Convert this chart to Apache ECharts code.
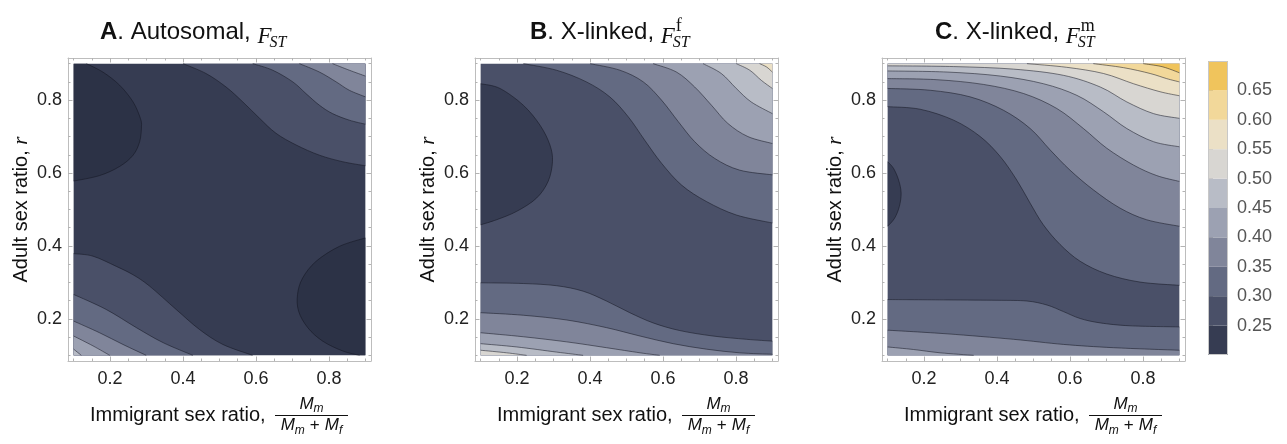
<!DOCTYPE html>
<html>
<head>
<meta charset="utf-8">
<script src="https://cdn.jsdelivr.net/npm/echarts@6/dist/echarts.min.js"></script>
<style>
  html, body { margin: 0; background: #fff; }
  #chart { width: 1287px; height: 444px; }
</style>
</head>
<body>
<div id="chart"></div>
<script>
// F_ST bands, 0.05 wide: lower edge of each band and its fill
var bandLows = [0.15, 0.20, 0.25, 0.30, 0.35, 0.40, 0.45, 0.50, 0.55, 0.60, 0.65];
var bandColors = ['#2c3246', '#363c52', '#4a5068', '#636a82', '#80859a', '#9ca1b2',
                  '#b8bcc6', '#d8d6d2', '#ebe0c6', '#f2d89a', '#f0c45c'];
var legendBands = [0.20, 0.25, 0.30, 0.35, 0.40, 0.45, 0.50, 0.55, 0.60, 0.65];
var legendTicks = [0.25, 0.30, 0.35, 0.40, 0.45, 0.50, 0.55, 0.60, 0.65];
var axisTicks = [0.2, 0.4, 0.6, 0.8];
var minorTicks = [0.1, 0.15, 0.2, 0.25, 0.3, 0.35, 0.4, 0.45, 0.5, 0.55, 0.6, 0.65, 0.7, 0.75, 0.8, 0.85, 0.9];
var domain = [0.1, 0.9];
// band that fills the bulk of each panel
var baseBand = [0.20, 0.25, 0.25];

// contour lines, [immigrant ratio, r] points
// side: which side of the line is enclosed, close: domain corners that close the region
var autosomalLines = [
  { level: 0.20, side: 'below', close: ['tl'], pts: [[0.135, 0.900], [0.180, 0.877], [0.226, 0.841], [0.263, 0.795], [0.283, 0.750], [0.286, 0.727], [0.281, 0.686], [0.263, 0.649], [0.226, 0.618], [0.171, 0.593], [0.100, 0.578]] },
  { level: 0.20, side: 'below', close: ['br'], pts: [[0.900, 0.422], [0.829, 0.399], [0.765, 0.358], [0.728, 0.312], [0.714, 0.267], [0.717, 0.221], [0.742, 0.176], [0.783, 0.139], [0.838, 0.112], [0.884, 0.100]] },
  { level: 0.25, side: 'above', close: ['tr'], pts: [[0.400, 0.900], [0.463, 0.873], [0.518, 0.836], [0.564, 0.795], [0.610, 0.750], [0.655, 0.709], [0.710, 0.677], [0.774, 0.649], [0.838, 0.631], [0.900, 0.620]] },
  { level: 0.30, side: 'above', close: ['tr'], pts: [[0.591, 0.900], [0.646, 0.882], [0.701, 0.850], [0.737, 0.818], [0.774, 0.786], [0.810, 0.763], [0.856, 0.745], [0.900, 0.734]] },
  { level: 0.35, side: 'above', close: ['tr'], pts: [[0.719, 0.900], [0.774, 0.877], [0.820, 0.850], [0.856, 0.827], [0.900, 0.809]] },
  { level: 0.40, side: 'above', close: ['tr'], pts: [[0.810, 0.900], [0.856, 0.882], [0.900, 0.866]] },
  { level: 0.25, side: 'above', close: ['bl'], pts: [[0.100, 0.379], [0.153, 0.372], [0.217, 0.344], [0.263, 0.321], [0.308, 0.290], [0.381, 0.226], [0.445, 0.171], [0.509, 0.130], [0.591, 0.100]] },
  { level: 0.30, side: 'above', close: ['bl'], pts: [[0.100, 0.267], [0.189, 0.226], [0.272, 0.176], [0.345, 0.135], [0.427, 0.100]] },
  { level: 0.35, side: 'above', close: ['bl'], pts: [[0.100, 0.194], [0.171, 0.162], [0.235, 0.130], [0.299, 0.100]] },
  { level: 0.40, side: 'above', close: ['bl'], pts: [[0.100, 0.153], [0.153, 0.126], [0.199, 0.100]] },
  { level: 0.45, side: 'above', close: ['bl'], pts: [[0.100, 0.117], [0.121, 0.100]] }
];

var femaleLines = [
  { level: 0.25, side: 'below', close: [], pts: [[0.100, 0.845], [0.153, 0.832], [0.217, 0.786], [0.263, 0.731], [0.290, 0.677], [0.297, 0.631], [0.285, 0.577], [0.253, 0.531], [0.199, 0.495], [0.144, 0.472], [0.100, 0.458]] },
  { level: 0.30, side: 'above', close: ['tr'], pts: [[0.217, 0.900], [0.308, 0.882], [0.390, 0.850], [0.454, 0.809], [0.505, 0.754], [0.550, 0.690], [0.596, 0.627], [0.651, 0.567], [0.719, 0.522], [0.801, 0.485], [0.900, 0.463]] },
  { level: 0.35, side: 'above', close: ['tr'], pts: [[0.400, 0.900], [0.482, 0.882], [0.546, 0.850], [0.596, 0.800], [0.642, 0.741], [0.687, 0.686], [0.742, 0.640], [0.810, 0.608], [0.900, 0.595]] },
  { level: 0.40, side: 'above', close: ['tr'], pts: [[0.573, 0.900], [0.637, 0.877], [0.687, 0.836], [0.733, 0.786], [0.778, 0.736], [0.833, 0.700], [0.900, 0.681]] },
  { level: 0.45, side: 'above', close: ['tr'], pts: [[0.710, 0.900], [0.760, 0.873], [0.801, 0.832], [0.842, 0.795], [0.900, 0.763]] },
  { level: 0.50, side: 'above', close: ['tr'], pts: [[0.801, 0.900], [0.838, 0.882], [0.870, 0.854], [0.900, 0.832]] },
  { level: 0.55, side: 'above', close: ['tr'], pts: [[0.865, 0.900], [0.884, 0.891], [0.900, 0.877]] },
  { level: 0.30, side: 'above', close: ['br', 'bl'], pts: [[0.100, 0.299], [0.217, 0.297], [0.308, 0.291], [0.381, 0.276], [0.445, 0.249], [0.509, 0.217], [0.573, 0.189], [0.646, 0.168], [0.737, 0.153], [0.829, 0.144], [0.900, 0.139]] },
  { level: 0.35, side: 'above', close: ['br', 'bl'], pts: [[0.100, 0.217], [0.217, 0.210], [0.336, 0.197], [0.445, 0.176], [0.537, 0.153], [0.628, 0.132], [0.719, 0.117], [0.810, 0.107], [0.900, 0.103]] },
  { level: 0.40, side: 'above', close: ['bl'], pts: [[0.100, 0.162], [0.217, 0.151], [0.336, 0.137], [0.445, 0.121], [0.537, 0.107], [0.591, 0.100]] },
  { level: 0.45, side: 'above', close: ['bl'], pts: [[0.100, 0.132], [0.199, 0.123], [0.308, 0.109], [0.381, 0.100]] },
  { level: 0.50, side: 'above', close: ['bl'], pts: [[0.100, 0.114], [0.171, 0.107], [0.226, 0.100]] }
];

var maleLines = [
  { level: 0.25, side: 'below', close: [], pts: [[0.100, 0.631], [0.116, 0.613], [0.130, 0.581], [0.137, 0.545], [0.132, 0.508], [0.119, 0.476], [0.100, 0.454]] },
  { level: 0.30, side: 'above', close: ['tr', 'tl'], pts: [[0.100, 0.782], [0.189, 0.775], [0.281, 0.745], [0.354, 0.700], [0.409, 0.645], [0.454, 0.581], [0.491, 0.517], [0.527, 0.458], [0.573, 0.404], [0.628, 0.358], [0.701, 0.323], [0.792, 0.301], [0.900, 0.292]] },
  { level: 0.35, side: 'above', close: ['tr', 'tl'], pts: [[0.100, 0.832], [0.217, 0.827], [0.326, 0.809], [0.418, 0.772], [0.491, 0.722], [0.546, 0.663], [0.600, 0.608], [0.664, 0.554], [0.737, 0.504], [0.810, 0.472], [0.900, 0.454]] },
  { level: 0.40, side: 'above', close: ['tr', 'tl'], pts: [[0.100, 0.859], [0.235, 0.856], [0.363, 0.843], [0.473, 0.818], [0.564, 0.777], [0.637, 0.722], [0.701, 0.668], [0.774, 0.622], [0.838, 0.593], [0.900, 0.577]] },
  { level: 0.45, side: 'above', close: ['tr', 'tl'], pts: [[0.100, 0.880], [0.263, 0.877], [0.409, 0.866], [0.527, 0.845], [0.619, 0.813], [0.692, 0.768], [0.756, 0.722], [0.829, 0.686], [0.900, 0.672]] },
  { level: 0.50, side: 'above', close: ['tr', 'tl'], pts: [[0.100, 0.894], [0.281, 0.892], [0.445, 0.885], [0.582, 0.868], [0.683, 0.836], [0.756, 0.795], [0.829, 0.763], [0.900, 0.750]] },
  { level: 0.55, side: 'above', close: ['tr'], pts: [[0.482, 0.900], [0.591, 0.890], [0.692, 0.873], [0.774, 0.845], [0.847, 0.823], [0.900, 0.812]] },
  { level: 0.60, side: 'above', close: ['tr'], pts: [[0.664, 0.900], [0.747, 0.889], [0.820, 0.873], [0.865, 0.859], [0.900, 0.850]] },
  { level: 0.65, side: 'above', close: ['tr'], pts: [[0.801, 0.900], [0.847, 0.893], [0.874, 0.885], [0.900, 0.875]] },
  { level: 0.30, side: 'above', close: ['br', 'bl'], pts: [[0.100, 0.253], [0.263, 0.252], [0.400, 0.251], [0.482, 0.249], [0.537, 0.238], [0.582, 0.220], [0.628, 0.201], [0.683, 0.189], [0.765, 0.181], [0.900, 0.178]] },
  { level: 0.35, side: 'above', close: ['br', 'bl'], pts: [[0.100, 0.169], [0.263, 0.159], [0.445, 0.144], [0.582, 0.130], [0.719, 0.121], [0.900, 0.114]] },
  { level: 0.40, side: 'above', close: ['bl'], pts: [[0.100, 0.123], [0.171, 0.116], [0.244, 0.107], [0.336, 0.100]] }
];

var panelLines = [autosomalLines, femaleLines, maleLines];
var panelTitles = [['A', '. Autosomal, ', ''], ['B', '. X-linked, ', 'f'], ['C', '. X-linked, ', 'm']];

// layout
var frameLefts = [68, 475, 882];
var titleLefts = [100, 530, 935];
var axisRange = [0.0845, 0.9155];
var SANS = '"Liberation Sans", Arial, sans-serif';
var SERIF = '"Liberation Serif", "Times New Roman", serif';

function bandColor(lo) {
  return bandColors[Math.round((lo - 0.15) / 0.05)];
}

// catmull-rom through the read points, as bezier path
function curvePath(p) {
  var d = 'M' + p[0][0].toFixed(2) + ' ' + p[0][1].toFixed(2);
  for (var i = 0; i < p.length - 1; i++) {
    var a = p[i - 1] || p[i], b = p[i], c = p[i + 1], e = p[i + 2] || c;
    d += ' C' + (b[0] + (c[0] - a[0]) / 6).toFixed(2) + ' ' + (b[1] + (c[1] - a[1]) / 6).toFixed(2) +
         ' ' + (c[0] - (e[0] - b[0]) / 6).toFixed(2) + ' ' + (c[1] - (e[1] - b[1]) / 6).toFixed(2) +
         ' ' + c[0].toFixed(2) + ' ' + c[1].toFixed(2);
  }
  return d;
}

var corners = { tl: [domain[0], domain[1]], tr: [domain[1], domain[1]], br: [domain[1], domain[0]], bl: [domain[0], domain[0]] };

function contourSeries(lines, k) {
  return {
    type: 'custom', xAxisIndex: k * 4, yAxisIndex: k * 4, silent: true,
    data: lines.map(function (l) { return l.pts[0]; }),
    renderItem: function (params, api) {
      var line = lines[params.dataIndex];
      var px = line.pts.map(function (p) { return api.coord(p); });
      var curve = curvePath(px);
      var fillPath = curve;
      line.close.forEach(function (c) {
        var q = api.coord(corners[c]);
        fillPath += ' L' + q[0].toFixed(2) + ' ' + q[1].toFixed(2);
      });
      fillPath += ' Z';
      var lo = line.side === 'above' ? line.level : line.level - 0.05;
      return {
        type: 'group',
        children: [
          { type: 'path', shape: { pathData: fillPath }, style: { fill: bandColor(lo), stroke: null } },
          { type: 'path', shape: { pathData: curve }, style: { fill: null, stroke: 'rgba(20,22,32,0.75)', lineWidth: 0.7 } }
        ]
      };
    }
  };
}

function baseSeries(k) {
  return {
    type: 'custom', xAxisIndex: k * 4, yAxisIndex: k * 4, silent: true,
    data: [[domain[0], domain[0]]],
    renderItem: function (params, api) {
      var p0 = api.coord([domain[0], domain[1]]), p1 = api.coord([domain[1], domain[0]]);
      return { type: 'rect', shape: { x: p0[0], y: p0[1], width: p1[0] - p0[0], height: p1[1] - p0[1] },
               style: { fill: bandColor(baseBand[k]) } };
    }
  };
}

function frameAxis(k, position, ticks, len, labels, isY) {
  var ax = {
    type: 'value', gridIndex: k, position: position,
    min: axisRange[0], max: axisRange[1],
    axisLine: { show: len > 3, onZero: false, lineStyle: { color: '#bdbdbd', width: 1 } },
    axisTick: { show: true, inside: true, length: len, customValues: ticks, lineStyle: { color: '#b3b3b3', width: 1 } },
    axisLabel: {
      show: labels, customValues: axisTicks, margin: isY ? 6 : 9,
      formatter: function (v) { return v.toFixed(1); },
      fontSize: 18, fontFamily: SANS, color: '#222'
    },
    splitLine: { show: false }
  };
  if (isY && labels) {
    ax.name = 'Adult sex ratio, {i|r}';
    ax.nameLocation = 'middle';
    ax.nameGap = 36;
    ax.nameMoveOverlap = false;
    ax.nameTextStyle = { fontSize: 20, fontFamily: SANS, color: '#111',
      rich: { i: { fontSize: 21, fontFamily: SERIF, fontStyle: 'italic', color: '#111' } } };
  }
  return ax;
}

var measureCtx = document.createElement('canvas').getContext('2d');
function textWidth(text, font) {
  measureCtx.font = font;
  return measureCtx.measureText(text).width;
}
function textEl(x, baseline, text, font, size) {
  return { type: 'text', x: x, y: baseline - 0.345 * size, silent: true,
           style: { text: text, font: font, fill: '#111', align: 'left', verticalAlign: 'middle' } };
}

function titleEls(k) {
  var t = panelTitles[k], x = titleLefts[k], els = [];
  var fb = 'bold 24px ' + SANS, fr = '24px ' + SANS, ff = 'italic 23px ' + SERIF;
  els.push(textEl(x, 40.7, t[0], fb, 24)); x += textWidth(t[0], fb);
  els.push(textEl(x, 40.7, t[1], fr, 24)); x += textWidth(t[1], fr);
  els.push(textEl(x, 44.5, 'F', ff, 23)); x += textWidth('F', ff);
  els.push(textEl(x - 2, 48.5, 'ST', 'italic 16px ' + SERIF, 16));
  if (t[2]) els.push(textEl(x + 1, 32, t[2], '18px ' + SERIF, 18));
  return els;
}

function xTitleEls(k) {
  var L = frameLefts[k], els = [];
  els.push(textEl(L + 22, 422, 'Immigrant sex ratio, ', '20px ' + SANS, 20));
  var fM = 'italic 17px ' + SANS, fs = 'italic 12px ' + SANS, fp = '17px ' + SANS;
  var x0 = L + 207, x1 = L + 280, cx = (x0 + x1) / 2;
  var wM = textWidth('M', fM), wm = textWidth('m', fs), wf = textWidth('f', fs), wp = textWidth('+', fp) + 10;
  // numerator
  var nx = cx - (wM + wm) / 2;
  els.push(textEl(nx, 410, 'M', fM, 17));
  els.push(textEl(nx + wM, 413, 'm', fs, 12));
  els.push({ type: 'line', silent: true, shape: { x1: x0, y1: 415.5, x2: x1, y2: 415.5 }, style: { stroke: '#111', lineWidth: 1 } });
  // denominator
  var dw = wM + wm + wp + wM + wf, dx = cx - dw / 2;
  els.push(textEl(dx, 431.5, 'M', fM, 17)); dx += wM;
  els.push(textEl(dx, 434.5, 'm', fs, 12)); dx += wm;
  els.push(textEl(dx + 5, 431.5, '+', fp, 17)); dx += wp;
  els.push(textEl(dx, 431.5, 'M', fM, 17)); dx += wM;
  els.push(textEl(dx, 434.5, 'f', fs, 12));
  return els;
}

var grids = [], xAxes = [], yAxes = [], series = [], graphics = [];
for (var k = 0; k < 3; k++) {
  grids.push({ left: frameLefts[k], top: 58, width: 303, height: 303, outerBoundsMode: 'none' });
  xAxes.push(frameAxis(k, 'bottom', axisTicks, 4.5, true, false));
  xAxes.push(frameAxis(k, 'bottom', minorTicks, 2.5, false, false));
  xAxes.push(frameAxis(k, 'top', axisTicks, 4.5, false, false));
  xAxes.push(frameAxis(k, 'top', minorTicks, 2.5, false, false));
  yAxes.push(frameAxis(k, 'left', axisTicks, 4.5, true, true));
  yAxes.push(frameAxis(k, 'left', minorTicks, 2.5, false, true));
  yAxes.push(frameAxis(k, 'right', axisTicks, 4.5, false, true));
  yAxes.push(frameAxis(k, 'right', minorTicks, 2.5, false, true));
  series.push(baseSeries(k));
  series.push(contourSeries(panelLines[k], k));
  graphics = graphics.concat(titleEls(k), xTitleEls(k));
}

// colour bar legend
grids.push({ left: 1208, top: 61, width: 20, height: 294, outerBoundsMode: 'none' });
xAxes.push({ type: 'value', gridIndex: 3, min: 0, max: 1, show: false });
yAxes.push({
  type: 'value', gridIndex: 3, position: 'right', min: 0.2, max: 0.7,
  axisLine: { show: false },
  axisTick: { show: true, length: 5, customValues: legendTicks, lineStyle: { color: '#aaa' } },
  axisLabel: { customValues: legendTicks, margin: 9, formatter: function (v) { return v.toFixed(2); },
               fontSize: 18, fontFamily: SANS, color: '#555' },
  splitLine: { show: false }
});
series.push({
  type: 'custom', xAxisIndex: 12, yAxisIndex: 12, silent: true,
  data: legendBands.map(function (lo) { return [0, lo]; }),
  renderItem: function (params, api) {
    var lo = api.value(1);
    var p0 = api.coord([0, lo]), p1 = api.coord([1, lo + 0.05]);
    return { type: 'rect', shape: { x: p0[0], y: p1[1], width: p1[0] - p0[0], height: p0[1] - p1[1] },
             style: { fill: bandColor(lo) } };
  }
});
series.push({
  type: 'custom', xAxisIndex: 12, yAxisIndex: 12, silent: true,
  data: [[0, 0.2]],
  renderItem: function (params, api) {
    var p0 = api.coord([0, 0.7]), p1 = api.coord([1, 0.2]);
    return { type: 'rect', shape: { x: p0[0] + 0.5, y: p0[1] + 0.5, width: p1[0] - p0[0] - 1, height: p1[1] - p0[1] - 1 },
             style: { fill: null, stroke: '#c8c8c8', lineWidth: 1 } };
  }
});

var chart = echarts.init(document.getElementById('chart'), null, { renderer: 'canvas' });
chart.setOption({
  animation: false,
  backgroundColor: '#fff',
  grid: grids,
  xAxis: xAxes,
  yAxis: yAxes,
  series: series,
  graphic: graphics
});
</script>
</body>
</html>
